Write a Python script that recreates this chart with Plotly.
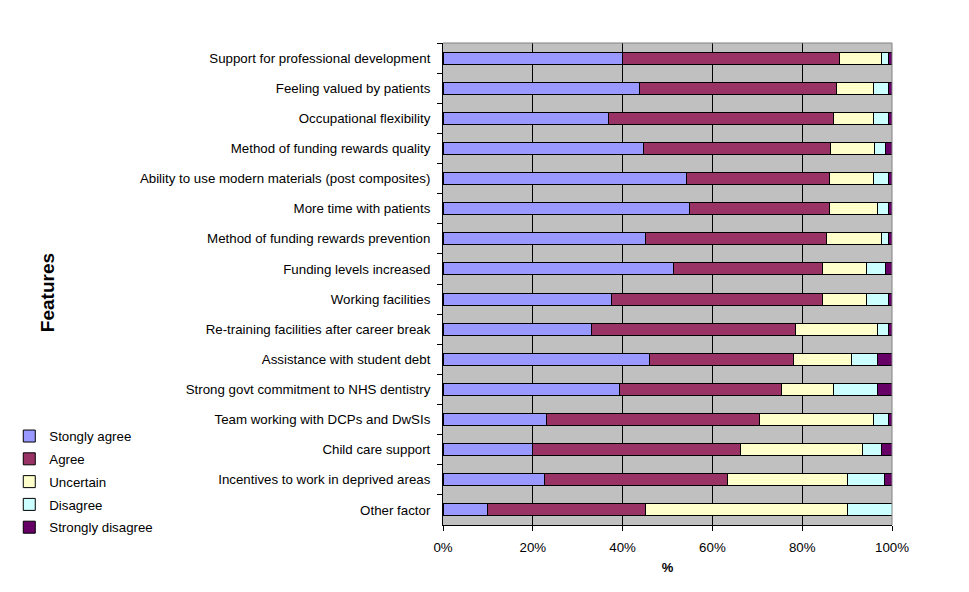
import plotly.graph_objects as go

features = [
    "Support for professional development",
    "Feeling valued by patients",
    "Occupational flexibility",
    "Method of funding rewards quality",
    "Ability to use modern materials (post composites)",
    "More time with patients",
    "Method of funding rewards prevention",
    "Funding levels increased",
    "Working facilities",
    "Re-training facilities after career break",
    "Assistance with student debt",
    "Strong govt commitment to NHS dentistry",
    "Team working with DCPs and DwSIs",
    "Child care support",
    "Incentives to work in deprived areas",
    "Other factor",
]

strongly_agree = [39.9, 43.7, 36.8, 44.6, 54.2, 54.9, 45.1, 51.3, 37.5, 33.1, 46.0, 39.3, 23.0, 19.9, 22.6, 9.9]
agree = [48.4, 43.9, 50.1, 41.7, 31.8, 31.1, 40.3, 33.2, 47.0, 45.4, 32.0, 36.1, 47.5, 46.3, 40.7, 35.2]
uncertain = [9.3, 8.3, 8.9, 9.8, 9.8, 10.7, 12.2, 9.8, 9.8, 18.2, 12.9, 11.5, 25.3, 27.2, 26.7, 44.9]
disagree = [1.6, 3.3, 3.4, 2.4, 3.4, 2.5, 1.6, 4.2, 4.9, 2.5, 5.8, 9.8, 3.4, 4.2, 8.3, 10.0]
strongly_disagree = [0.8, 0.8, 0.8, 1.5, 0.8, 0.8, 0.8, 1.5, 0.8, 0.8, 3.3, 3.3, 0.8, 2.4, 1.7, 0.0]

series = [
    ("Stongly agree", strongly_agree, "#9999FF"),
    ("Agree", agree, "#993366"),
    ("Uncertain", uncertain, "#FFFFCC"),
    ("Disagree", disagree, "#CCFFFF"),
    ("Strongly disagree", strongly_disagree, "#660066"),
]

font = "Arial, Liberation Sans, sans-serif"

fig = go.Figure()
for name, vals, color in series:
    fig.add_bar(
        x=vals,
        y=features,
        orientation="h",
        name=name,
        legendgroup=name,
        marker=dict(color=color, line=dict(color="black", width=1)),
    )

# page body has an 8px margin, so the figure is a little smaller than the window
fig.update_layout(
    barmode="stack",
    bargap=0.6,
    width=961,
    height=584,
    margin=dict(l=435, r=77, t=35, b=67, autoexpand=False),
    paper_bgcolor="white",
    plot_bgcolor="#C0C0C0",
    font=dict(family=font, size=13.3, color="black"),
    xaxis=dict(
        range=[0, 100],
        dtick=20,
        ticksuffix="%",
        showgrid=True,
        gridcolor="black",
        gridwidth=1,
        showline=True,
        linecolor="black",
        linewidth=1,
        ticks="outside",
        ticklen=5,
        tickcolor="black",
        ticklabelstandoff=5,
        zeroline=False,
        title=dict(text="<b>%</b>", font=dict(size=13), standoff=8),
    ),
    yaxis=dict(
        autorange="reversed",
        showgrid=False,
        showline=True,
        linecolor="black",
        linewidth=1,
        ticks="outside",
        ticklen=5,
        tickcolor="black",
        tickson="boundaries",
        ticklabelstandoff=9,
    ),
    legend=dict(
        x=-0.966,
        y=0.216,
        xanchor="left",
        yanchor="top",
        traceorder="grouped",
        tracegroupgap=2.5,
        font=dict(size=13.3),
        itemwidth=30,
        bgcolor="rgba(0,0,0,0)",
    ),
    annotations=[
        dict(
            text="<b>Features</b>",
            xref="paper",
            yref="paper",
            x=-0.882,
            y=0.483,
            xanchor="center",
            yanchor="middle",
            textangle=-90,
            showarrow=False,
            font=dict(size=19),
        )
    ],
    shapes=[
        dict(
            type="line", xref="paper", yref="paper",
            x0=0, x1=1, y0=1, y1=1,
            line=dict(color="#808080", width=1),
        ),
        dict(
            type="line", xref="paper", yref="paper",
            x0=1, x1=1, y0=0, y1=1,
            line=dict(color="#808080", width=1),
        ),
    ],
)

fig.write_html("out.html")
